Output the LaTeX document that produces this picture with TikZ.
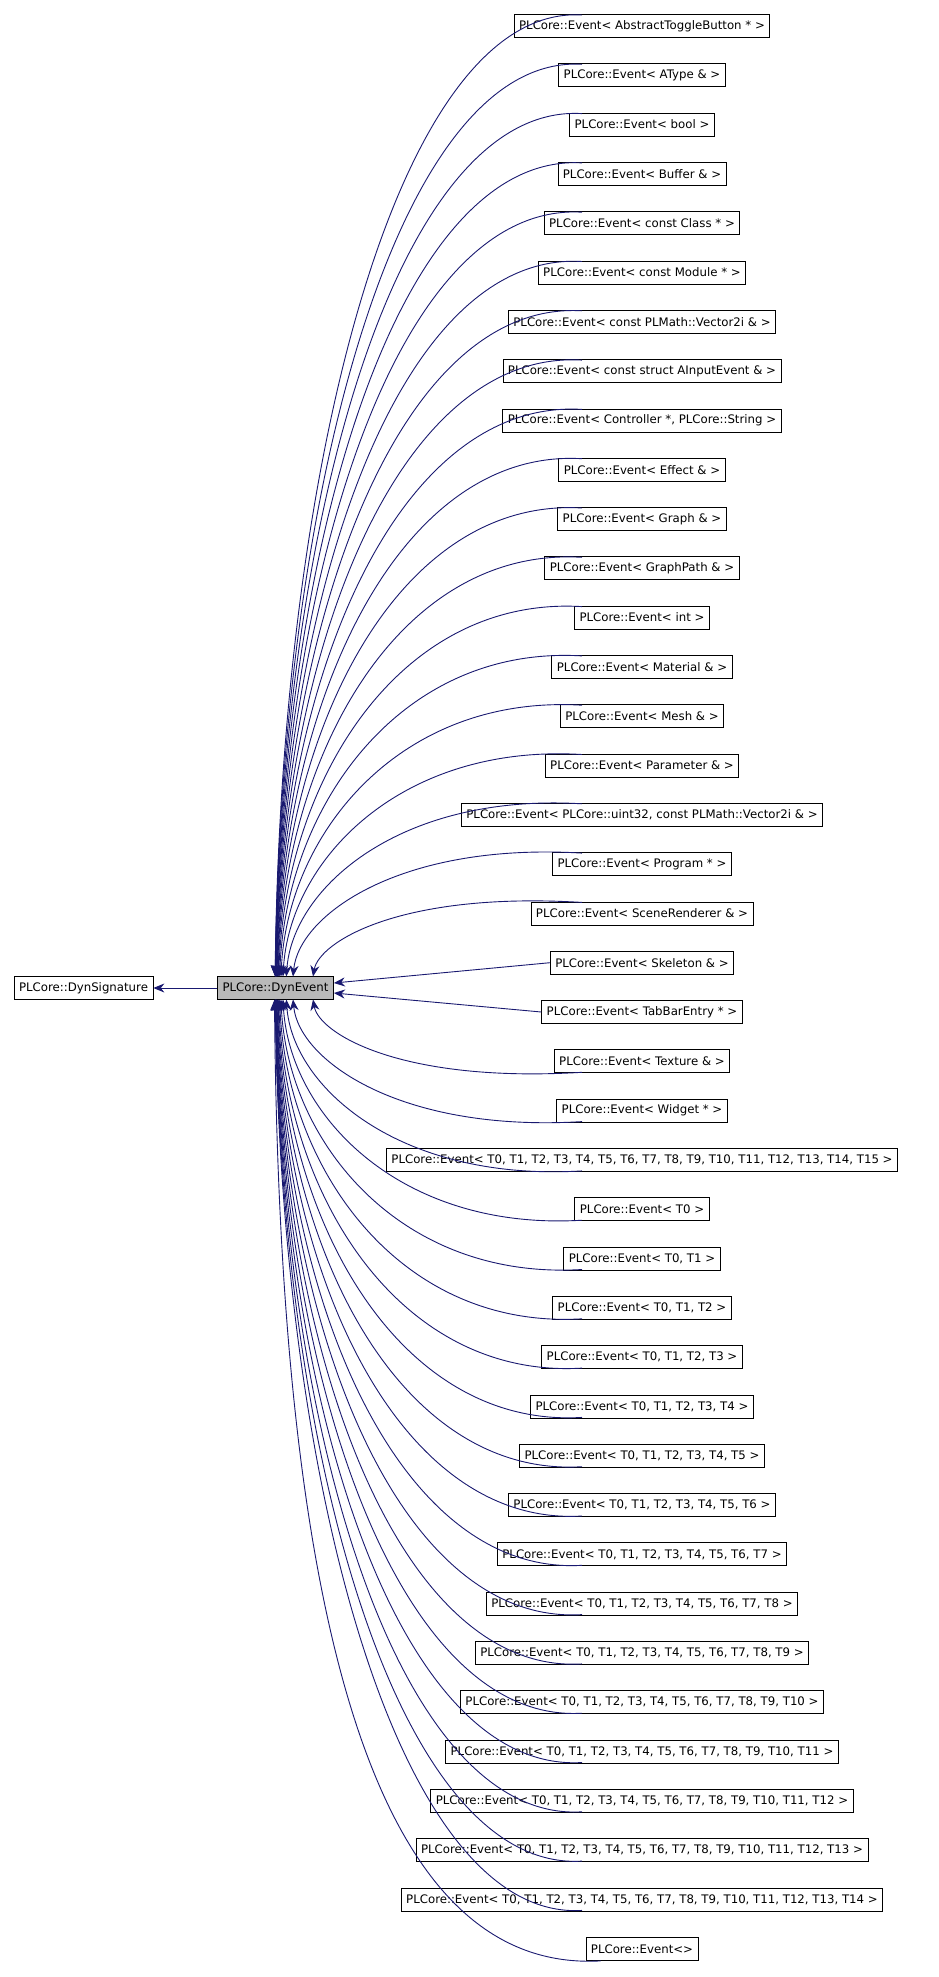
\documentclass[tikz,border=0pt]{standalone}
\usepackage{fontspec}
\setmainfont{DejaVu Sans}
\usetikzlibrary{arrows.meta,calc}
\definecolor{edgeblue}{RGB}{25,25,112}

\begin{document}
\begin{tikzpicture}[x=1bp,y=-1bp,
                    box/.style={draw,thick,fill=white,inner xsep=5bp,minimum height=23bp,font=\fontsize{11.8}{13}\selectfont},
                    edge/.style={edgeblue,line width=0.9bp,-{Stealth[length=11bp,width=9bp]}}]
  \useasboundingbox (0,0) rectangle (939,1977);

  \node[box] (sig) at (83.5,988) {PLCore::DynSignature};
  \node[box,fill=gray!55] (dyn) at (275.5,988) {PLCore::DynEvent};

  \foreach \t [count=\i] in {{AbstractToggleButton * },{AType \& },{bool },{Buffer \& },
      {const Class * },{const Module * },{const PLMath::Vector2i \& },{const struct AInputEvent \& },
      {Controller *, PLCore::String },{Effect \& },{Graph \& },{GraphPath \& },{int },{Material \& },
      {Mesh \& },{Parameter \& },{PLCore::uint32, const PLMath::Vector2i \& },{Program * },
      {SceneRenderer \& },{Skeleton \& },{TabBarEntry * },{Texture \& },{Widget * },
      {T0, T1, T2, T3, T4, T5, T6, T7, T8, T9, T10, T11, T12, T13, T14, T15 },{T0 },{T0, T1 },
      {T0, T1, T2 },{T0, T1, T2, T3 },{T0, T1, T2, T3, T4 },{T0, T1, T2, T3, T4, T5 },
      {T0, T1, T2, T3, T4, T5, T6 },{T0, T1, T2, T3, T4, T5, T6, T7 },
      {T0, T1, T2, T3, T4, T5, T6, T7, T8 },{T0, T1, T2, T3, T4, T5, T6, T7, T8, T9 },
      {T0, T1, T2, T3, T4, T5, T6, T7, T8, T9, T10 },{T0, T1, T2, T3, T4, T5, T6, T7, T8, T9, T10, T11 },
      {T0, T1, T2, T3, T4, T5, T6, T7, T8, T9, T10, T11, T12 },
      {T0, T1, T2, T3, T4, T5, T6, T7, T8, T9, T10, T11, T12, T13 },
      {T0, T1, T2, T3, T4, T5, T6, T7, T8, T9, T10, T11, T12, T13, T14 }}
    \node[box] (ev\i) at (642,{26+(\i-1)*49.3}) {PLCore::Event< \t>};
  \node[box] (ev40) at (642,1949) {PLCore::Event<>};

  % edges into the base class
  \draw[edge] (dyn) -- (sig);
  \foreach \i in {1,...,19} {
    \pgfmathsetmacro{\k}{20-\i}
    \pgfmathsetmacro{\tx}{273+40/\k}
    \pgfmathsetmacro{\sy}{26+(\i-1)*49.3}
    \coordinate (s) at (642-60,\sy-11);
    \draw[edge] (s) .. controls (400,\sy-22) and (\tx+6,{977-(977-\sy)*0.55}) .. (\tx,976.5);
  }
  \draw[edge] (ev20.west) -- ($(dyn.east)+(0,-5)$);
  \draw[edge] (ev21.west) -- ($(dyn.east)+(0,5)$);
  \foreach \i in {22,...,39} {
    \pgfmathsetmacro{\k}{\i-21}
    \pgfmathsetmacro{\tx}{273+40/\k}
    \pgfmathsetmacro{\sy}{26+(\i-1)*49.3}
    \coordinate (s) at (642-60,\sy+11);
    \draw[edge] (s) .. controls (400,\sy+22) and (\tx+6,{999+(\sy-999)*0.55}) .. (\tx,999.5);
  }
  \draw[edge] ($(ev40.south west)+(15,0)$) .. controls (400,1972) and (280,1700) .. (274.5,999.5);
\end{tikzpicture}
\end{document}
